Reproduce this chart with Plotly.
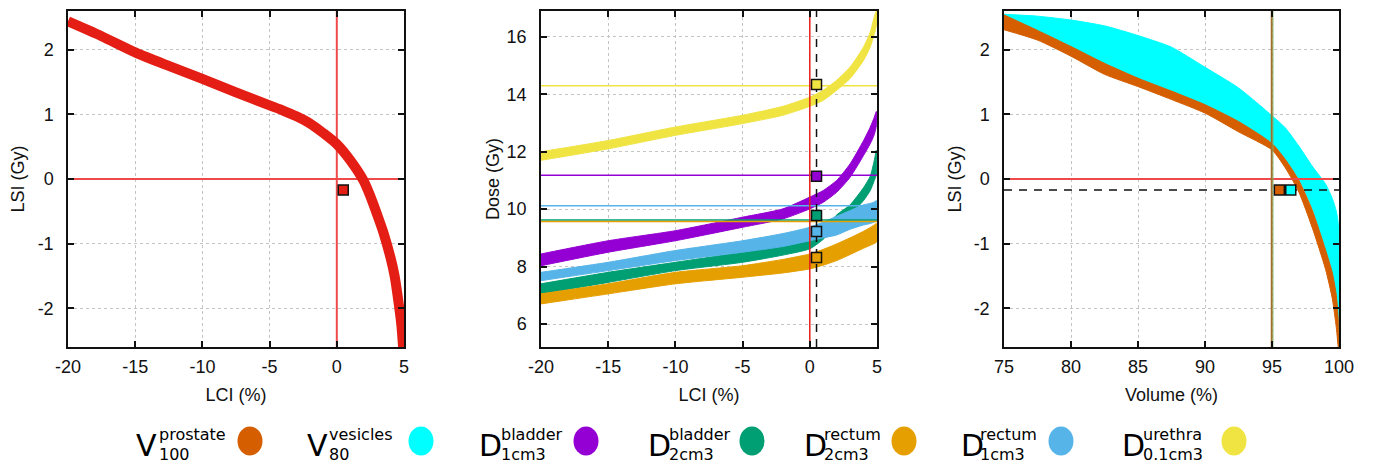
import plotly.graph_objects as go

# ---------------- data ----------------
# Left panel: LCI (%) vs LSI (Gy) band (centre line)
left_lci = [-20, -17.5, -15, -12.5, -10, -7.5, -5, -4, -3, -2, -1, 0, 1, 2, 2.5, 3, 3.5, 4, 4.3, 4.6, 4.8, 4.93]
left_lsi = [2.44, 2.21, 1.96, 1.75, 1.55, 1.34, 1.14, 1.06, 0.97, 0.86, 0.71, 0.54, 0.29, -0.03, -0.27, -0.55, -0.85, -1.22, -1.50, -1.92, -2.25, -2.6]
left_point_lci = [0.48]
left_point_lsi = [-0.17]

# Middle panel: LCI (%) vs dose bands (lower / upper edges)
mid_lci = [-20, -15, -10, -5, -2, 0, 1, 2, 3, 4, 4.5, 4.8, 4.95]
urethra_lo = [11.70, 12.10, 12.57, 12.98, 13.27, 13.58, 13.79, 14.14, 14.55, 15.18, 15.65, 16.1, 16.4]
urethra_hi = [12.00, 12.39, 12.86, 13.27, 13.58, 13.90, 14.14, 14.49, 14.95, 15.65, 16.17, 16.7, 16.9]
bladder1_lo = [8.03, 8.50, 8.90, 9.37, 9.66, 10.01, 10.24, 10.59, 11.11, 11.87, 12.28, 12.6, 12.9]
bladder1_hi = [8.44, 8.90, 9.25, 9.72, 10.01, 10.42, 10.65, 11.00, 11.58, 12.39, 12.86, 13.2, 13.4]
bladder2_lo = [7.05, 7.45, 7.86, 8.15, 8.40, 8.62, 8.95, 9.45, 9.80, 10.30, 10.65, 11.0, 11.2]
bladder2_hi = [7.40, 7.80, 8.15, 8.50, 8.75, 9.00, 9.30, 9.80, 10.15, 10.75, 11.15, 11.7, 12.05]
rectum1_lo = [7.51, 7.86, 8.21, 8.50, 8.70, 8.90, 9.00, 9.10, 9.30, 9.45, 9.50, 9.55, 9.60]
rectum1_hi = [7.80, 8.15, 8.56, 8.90, 9.15, 9.37, 9.55, 9.75, 9.95, 10.15, 10.20, 10.25, 10.30]
rectum2_lo = [6.70, 7.05, 7.40, 7.63, 7.78, 7.92, 8.05, 8.21, 8.42, 8.64, 8.74, 8.80, 8.85]
rectum2_hi = [7.05, 7.40, 7.80, 8.03, 8.25, 8.44, 8.60, 8.79, 9.00, 9.23, 9.36, 9.45, 9.50]
mid_levels = {"urethra": 14.30, "bladder1": 11.18, "rectum1": 10.12, "bladder2": 9.62, "rectum2": 9.57}
mid_points_lci = 0.5
mid_points = {"urethra": 14.34, "bladder1": 11.15, "bladder2": 9.78, "rectum1": 9.22, "rectum2": 8.32}

# Right panel: Volume (%) vs LSI (Gy)
prost_vol = [75, 77.5, 80, 82.5, 85, 87.5, 90, 92.5, 95, 96, 97, 98, 99, 99.5, 99.8, 99.95]
prost_lo = [2.31, 2.15, 1.90, 1.62, 1.43, 1.23, 1.02, 0.73, 0.45, 0.17, -0.20, -0.75, -1.40, -1.85, -2.30, -2.60]
prost_hi = [2.54, 2.30, 2.05, 1.79, 1.56, 1.36, 1.15, 0.89, 0.55, 0.30, -0.02, -0.48, -1.10, -1.45, -1.80, -2.20]
ves_vol = [75, 77.5, 80, 82.5, 85, 87.5, 90, 92.5, 95, 96, 97, 98, 99, 99.5, 99.8, 99.95, 100]
ves_lo = [2.40, 2.28, 2.04, 1.78, 1.55, 1.35, 1.14, 0.88, 0.55, 0.30, 0.00, -0.45, -1.10, -1.45, -1.80, -2.30, -2.60]
ves_hi = [2.55, 2.52, 2.46, 2.37, 2.22, 2.04, 1.73, 1.41, 0.98, 0.79, 0.51, 0.20, -0.08, -0.30, -0.50, -0.70, -1.20]
right_ref_volume = 95
right_point_lsi = -0.17
right_points_vol = [95.55, 96.4]

# Tick labels
lci_ticks = [-20, -15, -10, -5, 0, 5]
lci_ticktext = ["-20", "-15", "-10", "-5", "0", "5"]
lsi_ticks = [-2, -1, 0, 1, 2]
lsi_ticktext = ["-2", "-1", "0", "1", "2"]
dose_ticks = [6, 8, 10, 12, 14, 16]
dose_ticktext = ["6", "8", "10", "12", "14", "16"]
vol_ticks = [75, 80, 85, 90, 95, 100]
vol_ticktext = ["75", "80", "85", "90", "95", "100"]

# Legend
leg_base = ["V", "V", "D", "D", "D", "D", "D"]
leg_sup = ["prostate", "vesicles", "bladder", "bladder", "rectum", "rectum", "urethra"]
leg_sub = ["100", "80", "1cm3", "2cm3", "2cm3", "1cm3", "0.1cm3"]

# ---------------- styling ----------------
C_RED_BAND = "#E41E14"
C_RED_LINE = "#EE4A4A"
C = {
    "prostate": "#D55E00", "vesicles": "#00FFFF", "bladder1": "#9400D3",
    "bladder2": "#009E73", "rectum2": "#E69F00", "rectum1": "#56B4E9", "urethra": "#F0E442",
}
leg_colors = [C["prostate"], C["vesicles"], C["bladder1"], C["bladder2"], C["rectum2"], C["rectum1"], C["urethra"]]
# positions in reference-picture pixels
leg_letter_px = [135, 306, 478, 647, 803, 960, 1121]
leg_text_px = [158, 328, 500, 668, 823, 979, 1142]
leg_circle_px = [250, 421, 586, 752, 904, 1061, 1234]

OFF = 8  # page body margin in the browser
W, H = 1374 - OFF, 464 - OFF
ML, MT = 68 - OFF, 11 - OFF
MR = W - (1339 - OFF)
MB = H - (347 - OFF)
PW = W - ML - MR
PH = H - MT - MB


def px2x(p):
    return (p - OFF - ML) / PW


def px2y(p):
    return (H - MB - (p - OFF)) / PH


fig = go.Figure()


def band(x, lo, hi, color, xa, ya):
    fig.add_trace(go.Scatter(
        x=list(x) + list(x)[::-1], y=list(hi) + list(lo)[::-1],
        fill="toself", fillcolor=color, mode="lines",
        line=dict(color=color, width=1, shape="spline", smoothing=0.6),
        xaxis=xa, yaxis=ya, hoverinfo="skip", showlegend=False))


def hline(x0, x1, y, color, xa, ya, width=1.5, dash="solid"):
    fig.add_trace(go.Scatter(x=[x0, x1], y=[y, y], mode="lines",
                             line=dict(color=color, width=width, dash=dash),
                             xaxis=xa, yaxis=ya, hoverinfo="skip", showlegend=False))


def vline(x, y0, y1, color, xa, ya, width=1.5, dash="solid"):
    fig.add_trace(go.Scatter(x=[x, x], y=[y0, y1], mode="lines",
                             line=dict(color=color, width=width, dash=dash),
                             xaxis=xa, yaxis=ya, hoverinfo="skip", showlegend=False))


def square(x, y, color, xa, ya):
    fig.add_trace(go.Scatter(x=x, y=y, mode="markers",
                             marker=dict(symbol="square", size=10, color=color,
                                         line=dict(color="#111111", width=1.5)),
                             xaxis=xa, yaxis=ya, hoverinfo="skip", showlegend=False))


# ---- left panel ----
hline(-20, 5, 0, C_RED_LINE, "x", "y", 2)
vline(0, -2.6, 2.6, C_RED_LINE, "x", "y", 2)
fig.add_trace(go.Scatter(x=left_lci, y=left_lsi, mode="lines",
                         line=dict(color=C_RED_BAND, width=10, shape="spline", smoothing=0.8),
                         xaxis="x", yaxis="y", hoverinfo="skip", showlegend=False))
square(left_point_lci, left_point_lsi, C_RED_BAND, "x", "y")

# ---- middle panel ----
band(mid_lci, bladder2_lo, bladder2_hi, C["bladder2"], "x2", "y2")
band(mid_lci, rectum1_lo, rectum1_hi, C["rectum1"], "x2", "y2")
band(mid_lci, rectum2_lo, rectum2_hi, C["rectum2"], "x2", "y2")
band(mid_lci, bladder1_lo, bladder1_hi, C["bladder1"], "x2", "y2")
band(mid_lci, urethra_lo, urethra_hi, C["urethra"], "x2", "y2")
for k in ["urethra", "bladder1", "rectum1", "bladder2", "rectum2"]:
    hline(-20, 5, mid_levels[k], C[k], "x2", "y2", 1.5)
vline(0, 5.2, 16.9, "#E8201A", "x2", "y2", 1.5)
vline(mid_points_lci, 5.2, 16.9, "#111111", "x2", "y2", 1.5, "8px,7px")
for k in ["urethra", "bladder1", "bladder2", "rectum1", "rectum2"]:
    square([mid_points_lci], [mid_points[k]], C[k], "x2", "y2")

# ---- right panel ----
band(ves_vol, ves_lo, ves_hi, C["vesicles"], "x3", "y3")
band(prost_vol, prost_lo, prost_hi, C["prostate"], "x3", "y3")
hline(75, 100, 0, C_RED_LINE, "x3", "y3", 2)
hline(75, 100, right_point_lsi, "#111111", "x3", "y3", 1.5, "8px,7px")
vline(right_ref_volume - 0.02, -2.6, 2.6, "#A0702A", "x3", "y3", 2)
vline(right_ref_volume + 0.08, -2.6, 2.6, "#7FB36A", "x3", "y3", 0.8)
square([right_points_vol[0]], [right_point_lsi], C["prostate"], "x3", "y3")
square([right_points_vol[1]], [right_point_lsi], C["vesicles"], "x3", "y3")

# ---------------- axes ----------------
TICKFONT = dict(family="Liberation Sans, Arial, sans-serif", size=18, color="#111111")
TITLEFONT = dict(family="Liberation Sans, Arial, sans-serif", size=18, color="#111111")


def ax(domain, rng, vals, text, title, xaxis=True, anchor=None, standoff=None):
    if standoff is None:
        standoff = 12 if xaxis else 14
    return dict(domain=domain, range=rng, tickmode="array", tickvals=vals, ticktext=text,
                showline=True, linecolor="#111111",
                linewidth=1.5, mirror="ticks", ticks="inside", ticklen=6, tickwidth=1.5,
                tickcolor="#111111", showgrid=True, gridcolor="#C4C4C4", griddash="dot",
                gridwidth=1, zeroline=False, tickfont=TICKFONT, automargin=False,
                title=dict(text=title, font=TITLEFONT, standoff=standoff),
                ticklabelstandoff=3 if xaxis else 9, anchor=anchor, fixedrange=True)


d1 = [0, px2x(404)]
d2 = [px2x(541), px2x(877)]
d3 = [px2x(1004), 1]
fig.update_layout(
    xaxis=ax(d1, [-20, 5], lci_ticks, lci_ticktext, "LCI (%)", anchor="y"),
    yaxis=ax([0, 1], [-2.6, 2.6], lsi_ticks, lsi_ticktext, "LSI (Gy)", xaxis=False, anchor="x"),
    xaxis2=ax(d2, [-20, 5], lci_ticks, lci_ticktext, "LCI (%)", anchor="y2"),
    yaxis2=ax([0, 1], [5.2, 16.9], dose_ticks, dose_ticktext, "Dose (Gy)", xaxis=False, anchor="x2",
              standoff=2),
    xaxis3=ax(d3, [75, 100], vol_ticks, vol_ticktext, "Volume (%)", anchor="y3"),
    yaxis3=ax([0, 1], [-2.6, 2.6], lsi_ticks, lsi_ticktext, "LSI (Gy)", xaxis=False, anchor="x3",
              standoff=7),
)

# ---------------- legend (bottom) ----------------
LEGFONT = "DejaVu Sans, sans-serif"
annotations = []
shapes = []
for i in range(len(leg_base)):
    annotations.append(dict(text=leg_base[i], xref="paper", yref="paper",
                            x=px2x(leg_letter_px[i]), y=px2y(445), xanchor="left", yanchor="middle",
                            showarrow=False, borderpad=0,
                            font=dict(family=LEGFONT, size=30, color="#000000")))
    annotations.append(dict(text=leg_sup[i], xref="paper", yref="paper",
                            x=px2x(leg_text_px[i]), y=px2y(434.5), xanchor="left", yanchor="middle",
                            showarrow=False, borderpad=0,
                            font=dict(family=LEGFONT, size=16, color="#000000")))
    annotations.append(dict(text=leg_sub[i], xref="paper", yref="paper",
                            x=px2x(leg_text_px[i]), y=px2y(454.5), xanchor="left", yanchor="middle",
                            showarrow=False, borderpad=0,
                            font=dict(family=LEGFONT, size=16, color="#000000")))
    shapes.append(dict(type="circle", xref="paper", yref="paper",
                       xsizemode="pixel", ysizemode="pixel",
                       xanchor=px2x(leg_circle_px[i]), yanchor=px2y(441),
                       x0=-12.5, x1=12.5, y0=-14.5, y1=14.5,
                       fillcolor=leg_colors[i], line=dict(width=0)))

fig.update_layout(
    width=W, height=H, margin=dict(l=ML, r=MR, t=MT, b=MB, autoexpand=False),
    paper_bgcolor="white", plot_bgcolor="white", showlegend=False,
    annotations=annotations, shapes=shapes,
)

fig.write_html("out.html", config={"displayModeBar": False})
